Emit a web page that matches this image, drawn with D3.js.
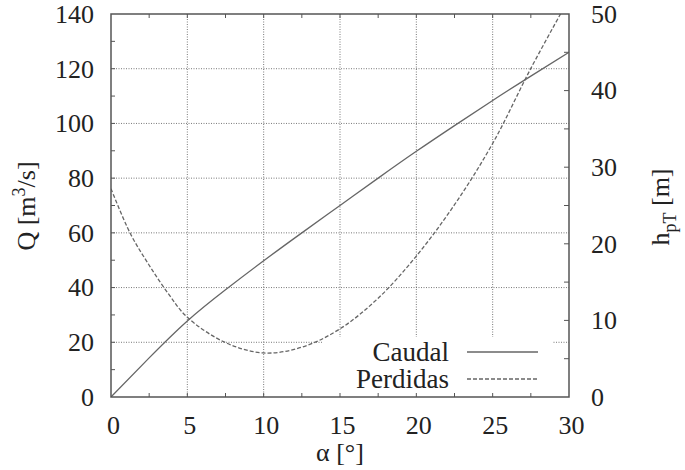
<!DOCTYPE html>
<html>
<head>
<meta charset="utf-8">
<script src="https://cdn.jsdelivr.net/npm/d3@7"></script>
<style>
	body { margin: 0; background: #fff; }
	svg { display: block; }
</style>
</head>
<body>
<svg id="graf" width="685" height="470"></svg>
<script>
"use strict";

// angulo alfa [grados]
var alfa = [0, 2.5, 5, 7.5, 10, 12.5, 15, 17.5, 20, 22.5, 25, 27.5, 30];
// caudal Q [m3/s]
var caudal = [0, 14.3, 27.8, 39.2, 49.8, 60, 70, 80, 89.8, 99.2, 108.4, 117.3, 126];
// perdidas hpT [m]
var alfaPerd = [0, 1.25, 2.5, 3.75, 5, 7.5, 10, 12.5, 15, 17.5, 20, 22.5, 25, 27.5, 30];
var perdidas = [27.2, 21.4, 17.2, 13.5, 10.4, 7.1, 5.75, 6.5, 8.9, 12.9, 18.4, 25.1, 33.1, 42.9, 52];

var ticksX = [0, 5, 10, 15, 20, 25, 30];
var ticksQ = [0, 20, 40, 60, 80, 100, 120, 140];
var ticksH = [0, 10, 20, 30, 40, 50];

var marge = { top: 14, right: 116, bottom: 73, left: 111 },
	larg = 685 - marge.left - marge.right,
	haut = 470 - marge.top - marge.bottom,
	gris = "#555",
	police = "'Liberation Serif'",
	taille = "26px";

var svg = d3.select("#graf"),
	g = svg.append("g").attr("transform", "translate(" + marge.left + "," + marge.top + ")");

var x = d3.scaleLinear().domain([0, 30]).range([0, larg]),
	yQ = d3.scaleLinear().domain([0, 140]).range([haut, 0]),
	yH = d3.scaleLinear().domain([0, 50]).range([haut, 0]);

// grilles
g.append("g").selectAll("line").data(ticksX.slice(1, -1)).enter().append("line")
	.attr("x1", d => x(d)).attr("x2", d => x(d))
	.attr("y1", 0).attr("y2", haut)
	.attr("stroke", gris).attr("stroke-width", 0.8).attr("stroke-dasharray", "1,1.5");
g.append("g").selectAll("line").data(ticksQ.slice(1, -1)).enter().append("line")
	.attr("x1", 0).attr("x2", larg)
	.attr("y1", d => yQ(d)).attr("y2", d => yQ(d))
	.attr("stroke", gris).attr("stroke-width", 0.8).attr("stroke-dasharray", "1,1.5");

// fond de la legende
g.append("rect")
	.attr("x", 211).attr("y", 323).attr("width", 231).attr("height", haut - 323)
	.attr("fill", "#fff");

// axes
function axe(gen, transl) {
	var a = g.append("g").attr("transform", transl).call(gen);
	a.attr("font-family", null);
	a.select(".domain").remove();
	a.selectAll(".tick text").attr("font-size", null)
		.style("font-size", taille).style("font-family", police).attr("fill", "#222");
	return a;
}
var aX = axe(d3.axisBottom(x).tickValues(ticksX).tickSize(0).tickPadding(14), "translate(0," + haut + ")");
aX.selectAll(".tick text").attr("dx", 2).attr("dy", "0.9em");
axe(d3.axisLeft(yQ).tickValues(ticksQ).tickSize(0).tickPadding(17), null);
axe(d3.axisRight(yH).tickValues(ticksH).tickSize(0).tickPadding(22), "translate(" + larg + ",0)");

// petites graduations interieures
var mX = d3.range(2.5, 30, 2.5), mQ = d3.range(10, 140, 10), mH = d3.range(5, 50, 5);
g.append("g").selectAll("line").data(mX).enter().append("line")
	.attr("x1", d => x(d)).attr("x2", d => x(d)).attr("y1", haut).attr("y2", haut - 4)
	.attr("stroke", gris);
g.append("g").selectAll("line").data(mX).enter().append("line")
	.attr("x1", d => x(d)).attr("x2", d => x(d)).attr("y1", 0).attr("y2", 4)
	.attr("stroke", gris);
g.append("g").selectAll("line").data(mQ).enter().append("line")
	.attr("x1", 0).attr("x2", 4).attr("y1", d => yQ(d)).attr("y2", d => yQ(d))
	.attr("stroke", gris);
g.append("g").selectAll("line").data(mH).enter().append("line")
	.attr("x1", larg).attr("x2", larg - 5).attr("y1", d => yH(d)).attr("y2", d => yH(d))
	.attr("stroke", gris);

// courbes
g.append("clipPath").attr("id", "cadre").append("rect")
	.attr("width", larg).attr("height", haut);

var ligneQ = d3.line().x((d, i) => x(alfa[i])).y(d => yQ(d)).curve(d3.curveNatural),
	ligneH = d3.line().x((d, i) => x(alfaPerd[i])).y(d => yH(d)).curve(d3.curveCatmullRom);

g.append("path").datum(caudal).attr("d", ligneQ)
	.attr("fill", "none").attr("stroke", "#666").attr("stroke-width", 1.3)
	.attr("clip-path", "url(#cadre)");
g.append("path").datum(perdidas).attr("d", ligneH)
	.attr("fill", "none").attr("stroke", "#666").attr("stroke-width", 1.3)
	.attr("stroke-dasharray", "4,2")
	.attr("clip-path", "url(#cadre)");

// cadre
g.append("rect").attr("width", larg).attr("height", haut)
	.attr("fill", "none").attr("stroke", gris).attr("stroke-width", 1.5);

// legende
var leg = g.append("g");
[["Caudal", null, 338], ["Perdidas", "4,2", 365]].forEach(function (l) {
	leg.append("text").attr("x", 338).attr("y", l[2]).attr("dy", "0.35em")
		.attr("text-anchor", "end").attr("fill", "#222")
		.style("font-family", police).style("font-size", "27px").text(l[0]);
	leg.append("line").attr("x1", 356).attr("x2", 427).attr("y1", l[2]).attr("y2", l[2])
		.attr("stroke", "#666").attr("stroke-width", 1.3)
		.attr("stroke-dasharray", l[1]);
});

// titres des axes
svg.append("text").attr("x", 340).attr("y", 461).attr("text-anchor", "middle")
	.style("font-family", police).style("font-size", taille).attr("fill", "#222").text("α [°]");

var tQ = svg.append("text").attr("transform", "translate(35,206) rotate(-90)")
	.attr("text-anchor", "middle").style("font-family", police).style("font-size", taille)
	.attr("fill", "#222");
tQ.append("tspan").text("Q [m");
tQ.append("tspan").attr("dy", -10).style("font-size", "18px").text("3");
tQ.append("tspan").attr("dy", 10).text("/s]");

var tH = svg.append("text").attr("transform", "translate(669,207) rotate(-90)")
	.attr("text-anchor", "middle").style("font-family", police).style("font-size", taille)
	.attr("fill", "#222");
tH.append("tspan").text("h");
tH.append("tspan").attr("dy", 7).style("font-size", "18px").text("pT");
tH.append("tspan").attr("dy", -7).text(" [m]");
</script>
</body>
</html>
